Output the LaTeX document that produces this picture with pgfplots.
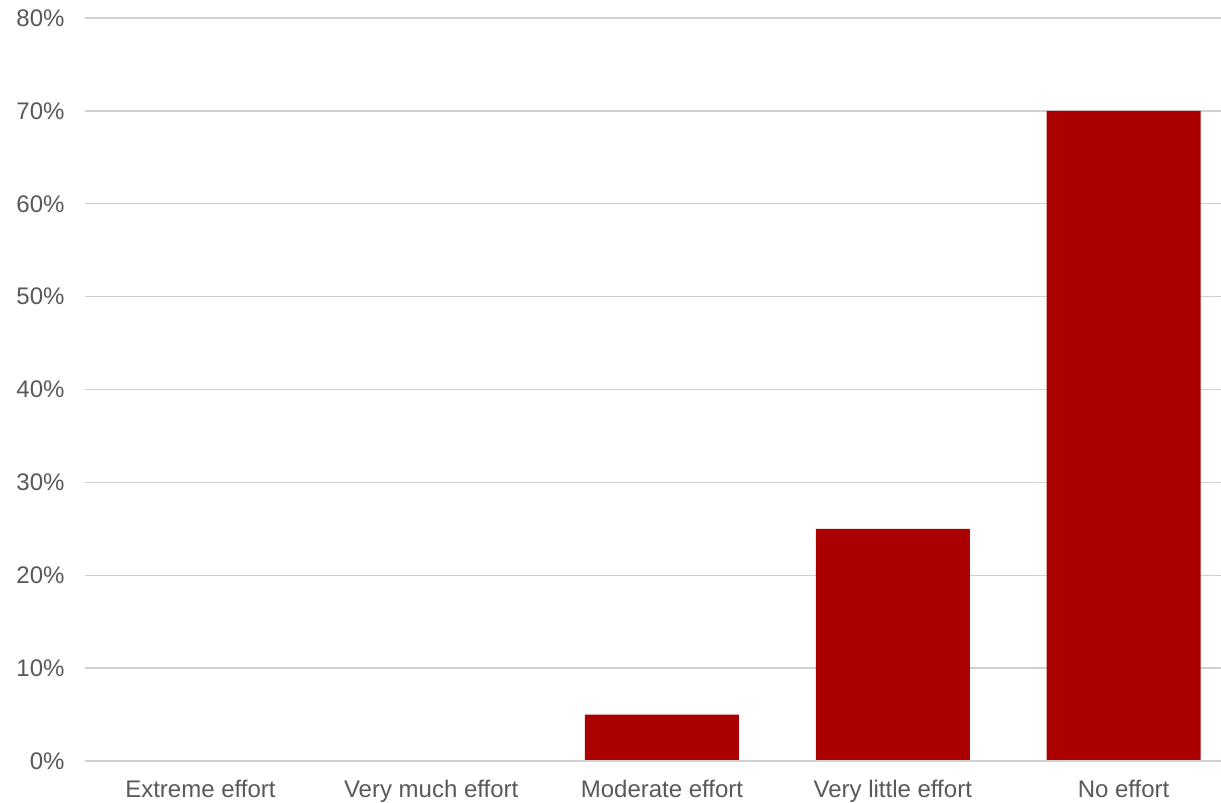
\documentclass[border=0pt]{standalone}
\usepackage{pgfplots}
\pgfplotsset{compat=1.18}
\usepackage{fontspec}
\setmainfont{Liberation Sans}
\definecolor{barred}{HTML}{AA0000}
\definecolor{txtgray}{HTML}{595959}
\definecolor{gridgray}{HTML}{D0D0D0}
\begin{document}
\begin{tikzpicture}
\useasboundingbox (-85pt,-42pt) rectangle (1136pt,761pt);
\begin{axis}[
  at={(0,0)}, anchor=south west,
  scale only axis, width=1154pt, height=743pt,
  xmin=-0.5, xmax=4.5, ymin=0, ymax=80,
  xtick={0,1,2,3,4},
  xticklabels={Extreme effort,Very much effort,Moderate effort,Very little effort,No effort},
  ytick={0,10,...,80},
  yticklabel={\pgfmathprintnumber{\tick}\%},
  /pgf/number format/assume math mode=true,
  ymajorgrids, grid style={gridgray, line width=1.3pt},
  axis line style={draw=none},
  major tick length=0pt,
  tick label style={font=\fontsize{24}{28}\selectfont, text=txtgray},
  yticklabel style={xshift=-17pt},
  xticklabel style={yshift=-16pt},
  ybar, bar width=154pt,
]
\addplot[fill=barred, draw=none] coordinates {(0,0) (1,0) (2,5) (3,25) (4,70)};
\draw[gridgray, line width=1.3pt] (axis cs:-0.5,0) -- (axis cs:4.5,0);
\end{axis}
\end{tikzpicture}
\end{document}
